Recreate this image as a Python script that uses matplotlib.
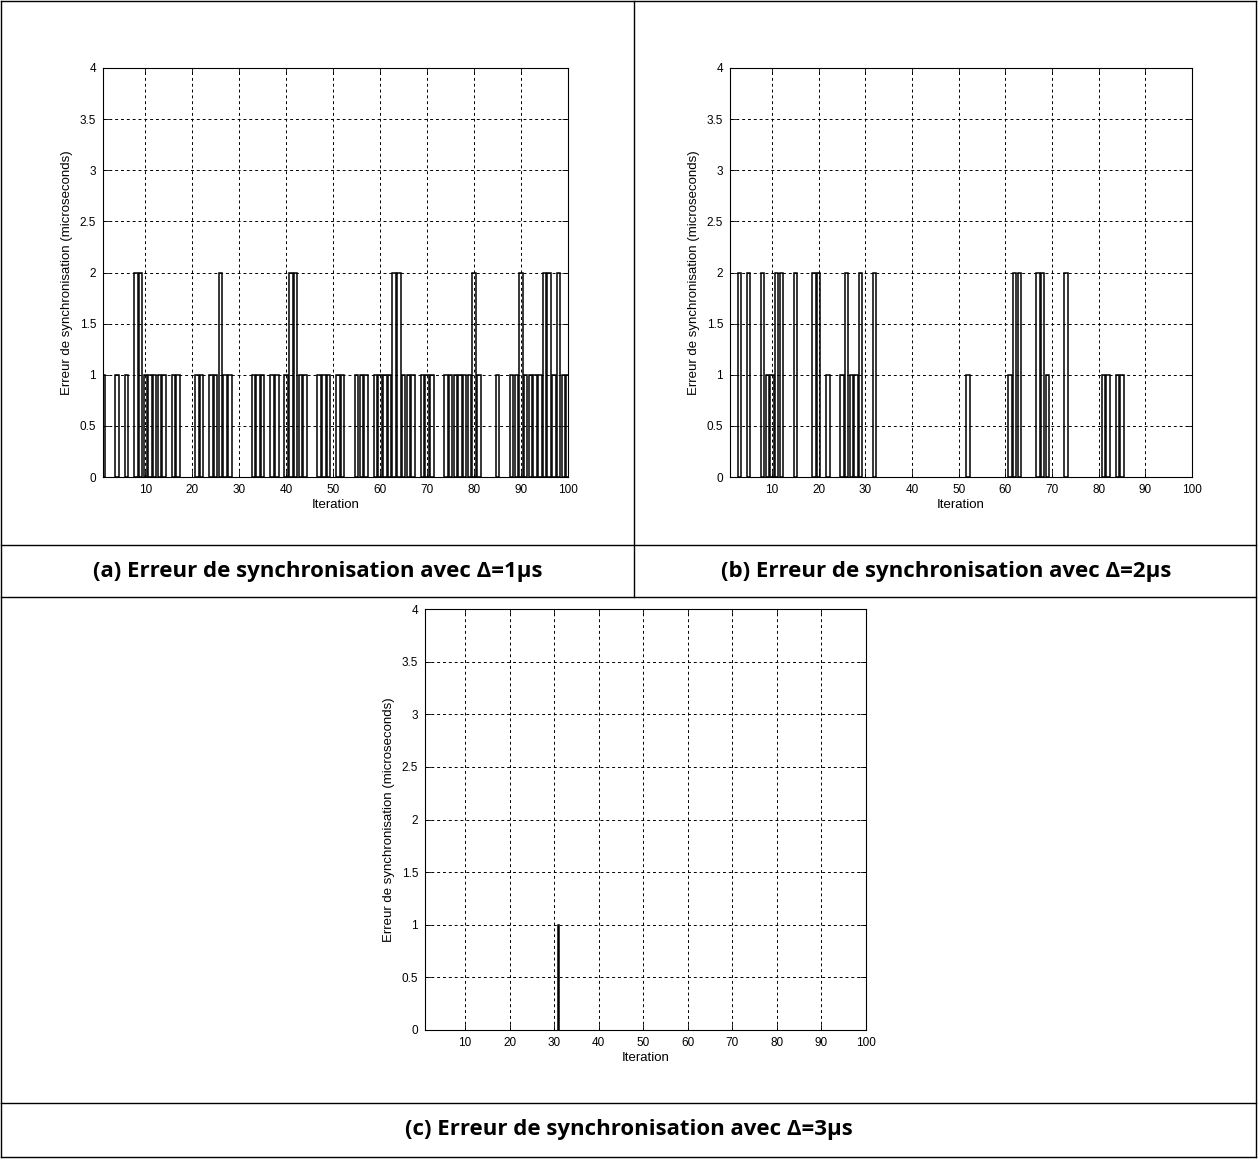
import numpy as np
import matplotlib.pyplot as plt
from matplotlib.lines import Line2D

# iterations 1..100, erreur de synchronisation (microseconds)
iterations = np.arange(1, 101)

err_d1 = [1, 0, 0, 1, 0, 1, 0, 2, 2, 1,
          1, 1, 1, 1, 0, 1, 1, 0, 0, 0,
          1, 1, 0, 1, 1, 2, 1, 1, 0, 0,
          0, 0, 1, 1, 1, 0, 1, 1, 0, 1,
          2, 2, 1, 1, 0, 0, 1, 1, 1, 0,
          1, 1, 0, 0, 1, 1, 1, 0, 1, 1,
          1, 1, 2, 2, 1, 1, 1, 0, 1, 1,
          1, 0, 0, 1, 1, 1, 1, 1, 1, 2,
          1, 0, 0, 0, 1, 0, 0, 1, 1, 2,
          1, 1, 1, 1, 2, 2, 1, 2, 1, 1]

err_d2 = [0, 0, 2, 0, 2, 0, 0, 2, 1, 1,
          2, 2, 0, 0, 2, 0, 0, 0, 2, 2,
          0, 1, 0, 0, 1, 2, 1, 1, 2, 0,
          0, 2, 0, 0, 0, 0, 0, 0, 0, 0,
          0, 0, 0, 0, 0, 0, 0, 0, 0, 0,
          0, 1, 0, 0, 0, 0, 0, 0, 0, 0,
          1, 2, 2, 0, 0, 0, 2, 2, 1, 0,
          0, 0, 2, 0, 0, 0, 0, 0, 0, 0,
          1, 1, 0, 1, 1, 0, 0, 0, 0, 0,
          0, 0, 0, 0, 0, 0, 0, 0, 0, 0]

err_d3 = [0] * 100
err_d3[30] = 1   # iteration 31

captions = ["(a) Erreur de synchronisation avec \u0394=1\u03bcs",
            "(b) Erreur de synchronisation avec \u0394=2\u03bcs",
            "(c) Erreur de synchronisation avec \u0394=3\u03bcs"]

W, H = 1258, 1159
fig = plt.figure(figsize=(W / 100, H / 100), dpi=100)
fig.patch.set_facecolor("white")

tick_font = ["Liberation Sans Narrow", "Liberation Sans", "DejaVu Sans"]


def draw_panel(rect, values, width):
    ax = fig.add_axes(rect)
    v = np.array(values)
    ax.bar(iterations[v > 0], v[v > 0], width=width, facecolor="none",
           edgecolor="black", linewidth=1.1, zorder=3)
    ax.set_xlim(1, 100)
    ax.set_ylim(0, 4)
    ax.set_xticks(np.arange(10, 101, 10))
    ax.set_yticks(np.arange(0, 4.01, 0.5))
    ax.set_yticklabels(["0", "0.5", "1", "1.5", "2", "2.5", "3", "3.5", "4"])
    ax.grid(True, color="black", linestyle=(0, (3, 3)), linewidth=0.7)
    ax.tick_params(direction="in", top=True, right=True, length=4, width=0.6,
                   labelsize=8.5, pad=5)
    for lab in ax.get_xticklabels() + ax.get_yticklabels():
        lab.set_family(tick_font)
    for s in ax.spines.values():
        s.set_linewidth(0.8)
    ax.set_xlabel("Iteration", family=tick_font, fontsize=9.5, labelpad=2)
    ax.set_ylabel("Erreur de synchronisation (microseconds)", family=tick_font,
                  fontsize=9.5, labelpad=5)
    return ax


def fx(px):
    return px / W


def fy(py):
    return 1 - py / H


draw_panel([fx(103), fy(477), fx(568 - 103), (477 - 68) / H], err_d1, 0.75)
draw_panel([fx(730), fy(477), fx(1192 - 730), (477 - 68) / H], err_d2, 0.75)
draw_panel([fx(425), fy(1030), fx(866 - 425), (1030 - 609) / H], err_d3, 0.15)

# table borders
lines = [((1, 1256), (1, 1)), ((1, 1256), (1157, 1157)),
         ((1, 1), (1, 1157)), ((1256, 1256), (1, 1157)),
         ((634, 634), (1, 597)), ((1, 1256), (545, 545)),
         ((1, 1256), (597, 597)), ((1, 1256), (1103, 1103))]
for xs, ys in lines:
    fig.add_artist(Line2D([fx(xs[0]), fx(xs[1])], [fy(ys[0]), fy(ys[1])],
                          color="black", linewidth=1.0))

cap_kw = dict(ha="center", va="center", fontsize=16, fontweight="bold",
              family=["Open Sans", "DejaVu Sans"])
fig.text(fx(318), fy(571), captions[0], **cap_kw)
fig.text(fx(946), fy(571), captions[1], **cap_kw)
fig.text(fx(629), fy(1130), captions[2], **cap_kw)

fig.savefig("out.png", dpi=100, facecolor="white")
